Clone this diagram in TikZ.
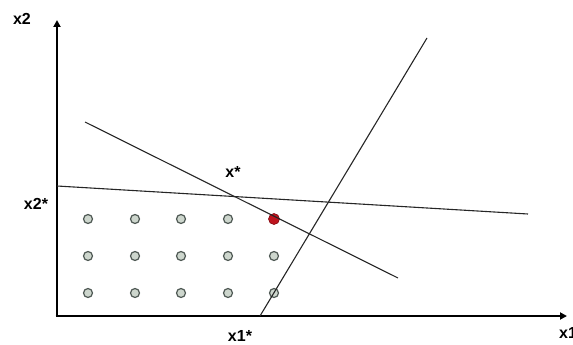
\documentclass[tikz,border=0pt]{standalone}
\usepackage{fontspec}
\setmainfont{Liberation Sans}
\usepackage{tikz}
\usetikzlibrary{arrows.meta}

\definecolor{dotfill}{RGB}{205,214,205}
\definecolor{dotedge}{RGB}{80,90,85}
\definecolor{optred}{RGB}{190,20,30}

\begin{document}
\begin{tikzpicture}[
  x=1pt,y=-1pt,
  axis/.style={line width=2.6pt,-{Triangle[length=7pt,width=7pt]}},
  bound/.style={line width=1.1pt,black!85},
  pt/.style={circle,draw=dotedge,fill=dotfill,line width=1.2pt,minimum size=9pt,inner sep=0pt},
  opt/.style={circle,fill=optred,draw=optred!70!black,line width=.6pt,minimum size=11pt,inner sep=0pt},
  lbl/.style={font=\fontsize{16}{18}\selectfont\bfseries,inner sep=0pt}
]
  \useasboundingbox (0,0) rectangle (573,345);
  % axes
  \coordinate (o) at (57,316);
  \coordinate (ytip) at (57,20);
  \coordinate (xtip) at (567,316);
  \draw[axis] (o) -- (ytip);
  \draw[axis] ([xshift=-1.3pt]o) -- (xtip);
  \node[lbl] (ylab) at (22,19) {x2};
  \node[lbl,anchor=north west] (xlab) at (559,327) {x1};
  % integer points
  \foreach \i/\x in {1/88,2/135,3/181,4/228,5/274}
    \foreach \j/\y in {1/219,2/256,3/293}
      \node[pt] (p\i\j) at (\x,\y) {};
  \node[opt] (best) at (274,219) {};
  % constraint lines
  \coordinate (a1) at (57,186);
  \coordinate (a2) at (528,214);
  \coordinate (b1) at (85,122);
  \coordinate (b2) at (398,278);
  \coordinate (c1) at (260,316);
  \coordinate (c2) at (427,38);
  \draw[bound] (a1) -- (a2);
  \draw[bound] (b1) -- (b2);
  \draw[bound] (c1) -- (c2);
  % labels
  \node[lbl] (xs) at (233,172) {x*};
  \node[lbl] (x2s) at (36,204) {x2*};
  \node[lbl] (x1s) at (240,336) {x1*};
\end{tikzpicture}
\end{document}
